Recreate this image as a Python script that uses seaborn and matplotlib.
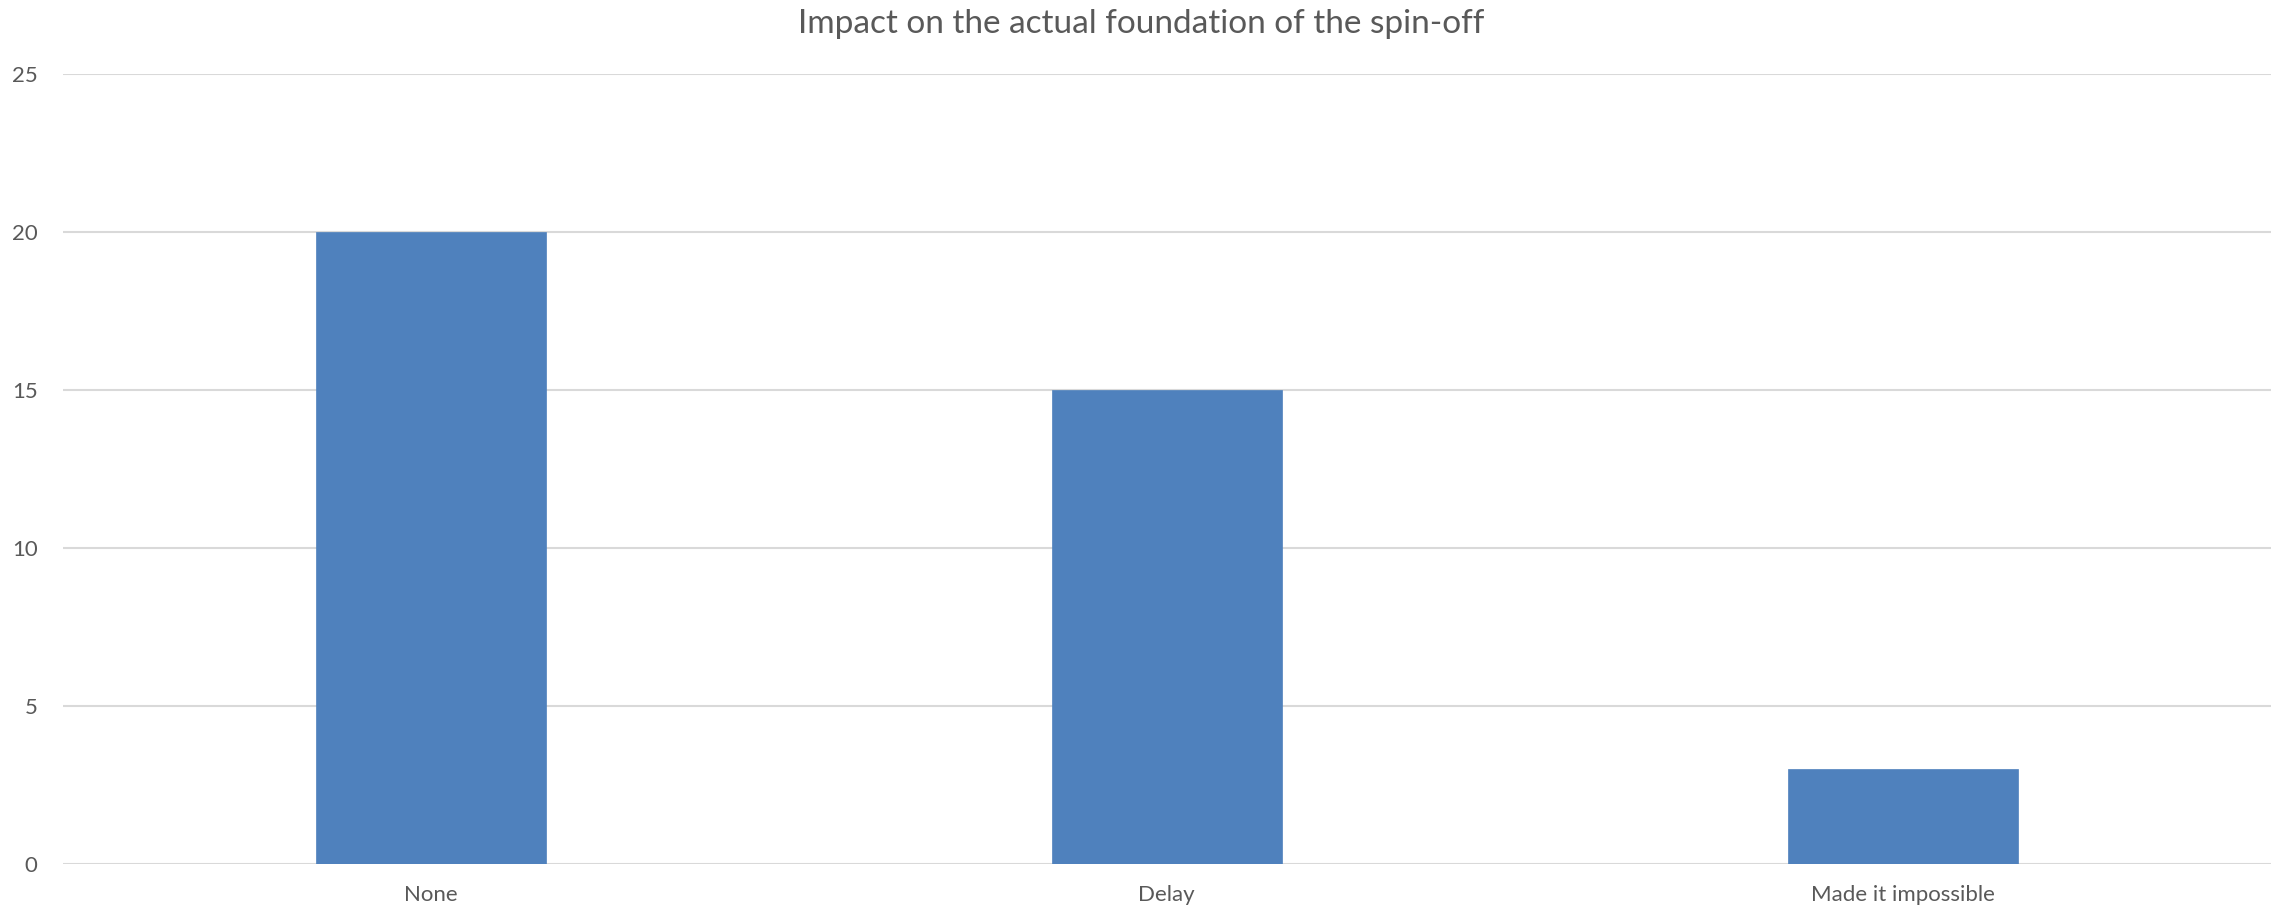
import matplotlib
matplotlib.use("Agg")
import matplotlib.pyplot as plt
import seaborn as sns
import pandas as pd

categories = ["None", "Delay", "Made it impossible"]
values = [20, 15, 3]
yticks = [0, 5, 10, 15, 20, 25]
title = "Impact on the actual foundation of the spin-off"

sns.set_theme(style="white")
plt.rcParams['font.family'] = ['Lato', 'DejaVu Sans']

df = pd.DataFrame({"category": categories, "value": values})

fig = plt.figure(figsize=(22.83, 9.10), dpi=100)
ax = fig.add_axes([0.0274, 0.0505, 0.9673, 0.8682])

sns.barplot(data=df, x="category", y="value", color="#4F81BD", saturation=1,
            width=0.3125, ax=ax, edgecolor="#4F81BD", linewidth=0.5, zorder=3)

ax.set_ylim(0, 25)
ax.set_yticks(yticks)
ax.set_xlim(-0.5, len(categories) - 0.5)
ax.yaxis.grid(True, color="#D9D9D9", linewidth=1.5, zorder=0)
ax.set_axisbelow(True)
for s in ax.spines.values():
    s.set_visible(False)
ax.set_xlabel("")
ax.set_ylabel("")
ax.tick_params(axis="y", length=0, pad=18, labelsize=16, labelcolor="#595959")
ax.tick_params(axis="x", length=0, pad=15, labelsize=16, labelcolor="#595959")
fig.suptitle(title, y=0.990, va="top", fontsize=24, color="#595959")

fig.savefig("out.png", dpi=100)
